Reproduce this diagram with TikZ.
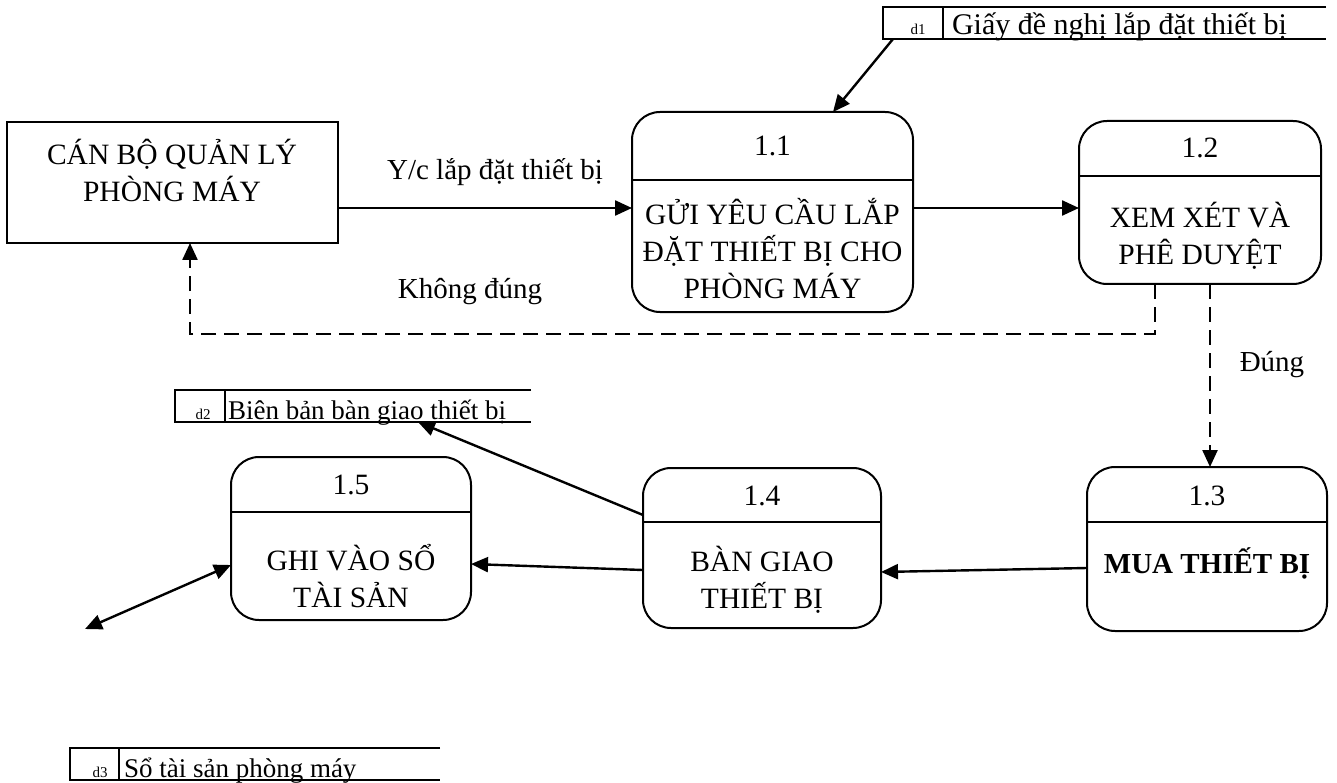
\documentclass[tikz,border=0pt]{standalone}
\usepackage{fontspec}
\setmainfont{Liberation Serif}
\usetikzlibrary{arrows.meta}
\begin{document}
\begin{tikzpicture}[x=1pt,y=-1pt,
  every node/.style={outer sep=0pt},
  box/.style={draw, line width=2pt, inner sep=0pt, anchor=north west},
  proc/.style={box, rounded corners=28pt},
  divider/.style={line width=2pt},
  txt/.style={font=\fontsize{29.5}{37}\selectfont, align=center, inner sep=0pt},
  btxt/.style={txt, font=\fontsize{29}{37}\selectfont\bfseries},
  lbl/.style={font=\fontsize{29}{34}\selectfont, inner sep=0pt},
  stxt/.style={font=\fontsize{27}{32}\selectfont, inner sep=0pt, anchor=base west},
  dlbl/.style={font=\fontsize{15}{17}\selectfont, inner sep=0pt, anchor=base},
  storebox/.style={inner sep=0pt, minimum height=32pt, anchor=north west},
  storeline/.style={line width=1.6pt},
  flow/.style={line width=2.4pt, -{Triangle[length=17pt,width=15pt]}},
  biflow/.style={line width=2.4pt, {Triangle[length=17pt,width=15pt]}-{Triangle[length=17pt,width=15pt]}},
  dflow/.style={flow, dash pattern=on 15pt off 8pt},
]
\useasboundingbox (0,0) rectangle (1337,783);

% external entity
\node[box, minimum width=331pt, minimum height=121pt] (ent) at (7,122) {};
\node[txt] (entt) at (172,170) {CÁN BỘ QUẢN LÝ\\PHÒNG MÁY};

% process 1.1
\node[proc, minimum width=281pt, minimum height=200pt] (p11) at (632,112) {};
\draw[divider] (p11.west |- 0,180) -- (p11.east |- 0,180);
\node[txt] (p11n) at (p11.north |- 0,146) {1.1};
\node[txt] (p11t) at (p11.north |- 0,249) {GỬI YÊU CẦU LẮP\\ĐẶT THIẾT BỊ CHO\\PHÒNG MÁY};

% process 1.2
\node[proc, minimum width=242pt, minimum height=163pt] (p12) at (1079,121) {};
\draw[divider] (p12.west |- 0,176) -- (p12.east |- 0,176);
\node[txt] (p12n) at (p12.north |- 0,148) {1.2};
\node[txt] (p12t) at (p12.north |- 0,236) {XEM XÉT VÀ\\PHÊ DUYỆT};

% process 1.3
\node[proc, minimum width=240pt, minimum height=164pt] (p13) at (1087,467) {};
\draw[divider] (p13.west |- 0,522) -- (p13.east |- 0,522);
\node[txt] (p13n) at (p13.north |- 0,496) {1.3};
\node[btxt] (p13t) at (p13.north |- 0,563) {MUA THIẾT BỊ};

% process 1.4
\node[proc, minimum width=238pt, minimum height=160pt] (p14) at (643,468) {};
\draw[divider] (p14.west |- 0,522) -- (p14.east |- 0,522);
\node[txt] (p14n) at (p14.north |- 0,496) {1.4};
\node[txt] (p14t) at (p14.north |- 0,580) {BÀN GIAO\\THIẾT BỊ};

% process 1.5
\node[proc, minimum width=240pt, minimum height=163pt] (p15) at (231,457) {};
\draw[divider] (p15.west |- 0,512) -- (p15.east |- 0,512);
\node[txt] (p15n) at (p15.north |- 0,485) {1.5};
\node[txt] (p15t) at (p15.north |- 0,576) {GHI VÀO SỔ\\TÀI SẢN};

% data stores (open on the right)
\node[storebox, minimum width=443pt] (d1) at (883,7) {};
\draw[storeline] (d1.north east) -- (d1.north west) -- (d1.south west) -- (d1.south east);
\draw[storeline] ([xshift=60pt]d1.north west) -- ([xshift=60pt]d1.south west);
\node[dlbl] (d1n) at (918,35) {d1};
\node[stxt, font=\fontsize{30}{34}\selectfont] (d1t) at (952,35) {Giấy đề nghị lắp đặt thiết bị};

\node[storebox, minimum width=356pt] (d2) at (175,390) {};
\draw[storeline] (d2.north east) -- (d2.north west) -- (d2.south west) -- (d2.south east);
\draw[storeline] ([xshift=50pt]d2.north west) -- ([xshift=50pt]d2.south west);
\node[dlbl] (d2n) at (203,419) {d2};
\node[stxt] (d2t) at (228,419) {Biên bản bàn giao thiết bị};

\node[storebox, minimum width=370pt] (d3) at (70,748) {};
\draw[storeline] (d3.north east) -- (d3.north west) -- (d3.south west) -- (d3.south east);
\draw[storeline] ([xshift=49pt]d3.north west) -- ([xshift=49pt]d3.south west);
\node[dlbl] (d3n) at (100,777) {d3};
\node[stxt] (d3t) at (124,777) {Sổ tài sản phòng máy};

% flow labels
\node[lbl] (lyc) at (495,172) {Y/c lắp đặt thiết bị};
\node[lbl] (lkd) at (470,292) {Không đúng};
\node[lbl] (ld) at (1272,365) {Đúng};

% data flows
\draw[flow] (ent.east |- 0,208) -- (p11.west |- 0,208);
\draw[flow] (p11.east |- 0,208) -- (p12.west |- 0,208);
\draw[flow] ([xshift=10pt]d1.south west) -- ([xshift=201pt]p11.north west);

\coordinate (kd) at (190,334);
\draw[dflow] ([xshift=76pt]p12.south west) |- (kd) -- (kd |- ent.south);
\draw[dflow] ([xshift=131pt]p12.south west) -- ([xshift=131pt]p12.south west |- p13.north);

\draw[flow] (p13.west |- 0,568) -- (p14.east |- 0,572);
\draw[flow] (p14.west |- 0,570) -- (p15.east |- 0,564);
\draw[flow] (p14.west |- 0,515) -- ([xshift=243pt]d2.south west);

\coordinate (ext) at (85,629);
\draw[biflow] (ext) -- (p15.west |- 0,565);
\end{tikzpicture}
\end{document}
